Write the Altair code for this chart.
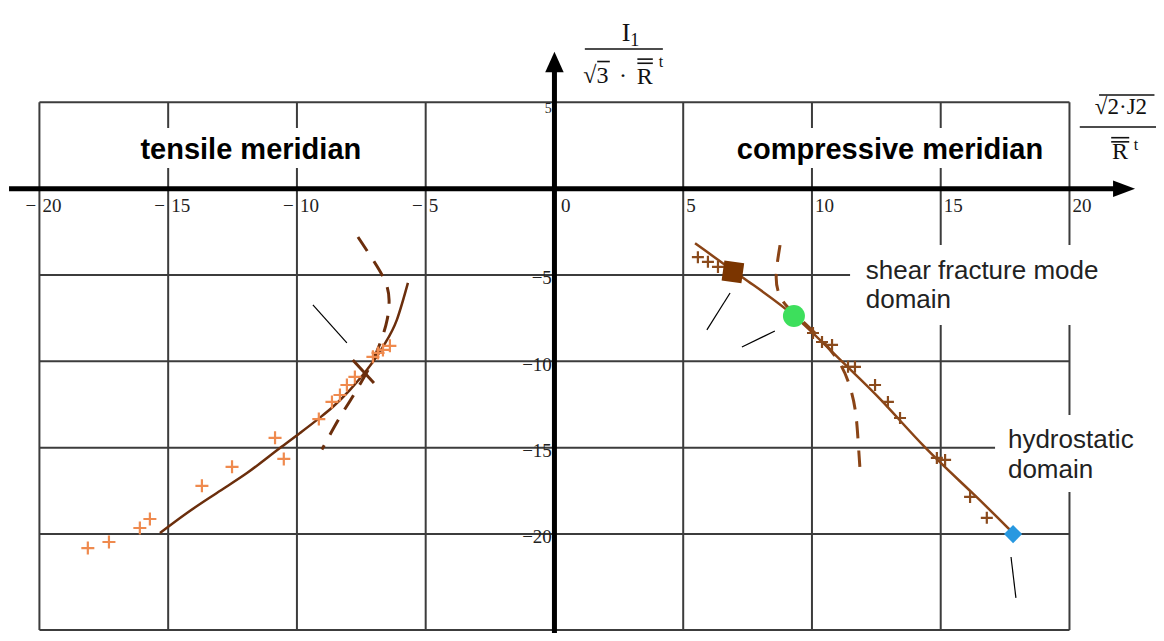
import altair as alt
import pandas as pd

# ---------------- data ----------------
grid_x = [-15, -10, -5, 5, 10, 15]
grid_y = [-5, -10, -15, -20]
frame_x = [-20, 20]
frame_y = [5, -25.55]

x_tick_vals = [-20, -15, -10, -5, 0, 5, 10, 15, 20]
x_tick_digits = ["20", "15", "10", "5", "0", "5", "10", "15", "20"]
y_tick_vals = [-5, -10, -15, -20]
y_tick_text = ["\u22125", "\u221210", "\u221215", "\u221220"]

# tensile meridian
tens_curve_x = [-15.32, -14.27, -13.11, -11.94, -10.66, -9.88, -9.22, -8.60, -7.94, -7.28, -6.66, -6.12, -5.69]
tens_curve_y = [-19.94, -18.78, -17.62, -16.47, -15.02, -14.15, -13.39, -12.63, -11.65, -10.49, -9.16, -7.60, -5.46]
tens_dash_x = [-7.63, -7.09, -6.50, -6.39, -6.47, -6.70, -7.05, -7.48, -7.94, -8.33, -9.03]
tens_dash_y = [-2.80, -4.01, -5.41, -6.44, -7.57, -8.73, -10.00, -11.16, -12.31, -13.19, -15.10]
tens_pts_x = [-18.12, -17.30, -16.10, -15.71, -13.69, -12.52, -10.85, -10.51, -9.15, -8.64, -8.33, -8.06, -7.75, -7.05, -6.85, -6.66, -6.39]
tens_pts_y = [-20.81, -20.46, -19.65, -19.13, -17.21, -16.11, -14.43, -15.65, -13.34, -12.35, -11.95, -11.37, -10.90, -9.74, -9.51, -9.34, -9.10]

# compressive meridian
comp_curve_x = [5.46, 7.59, 9.26, 11.09, 12.64, 14.31, 16.25, 17.81]
comp_curve_y = [-3.16, -5.46, -7.16, -9.94, -12.08, -14.96, -17.62, -19.94]
comp_dash_x = [8.76, 8.56, 8.68, 8.95, 9.26, 10.12, 11.09, 11.48, 11.71, 11.79, 11.86]
comp_dash_y = [-3.27, -5.13, -6.06, -6.73, -7.16, -8.32, -9.94, -11.37, -12.81, -14.55, -16.11]
comp_pts_x = [5.57, 5.96, 6.35, 10.04, 10.39, 10.78, 11.40, 11.67, 12.45, 12.95, 13.42, 14.85, 15.17, 16.14, 16.79]
comp_pts_y = [-3.97, -4.24, -4.53, -8.36, -8.88, -9.05, -10.32, -10.32, -11.37, -12.35, -13.28, -15.59, -15.71, -17.85, -19.06]

# special points
shear_pt = [6.93, -4.82]
green_pt = [9.30, -7.38]
hydro_pt = [17.81, -20.0]

# thin pointer strokes (x, y, x2, y2)
ptr_x = [-9.38, 6.82, 8.56, 17.73]
ptr_y = [-6.73, -6.04, -8.24, -21.33]
ptr_x2 = [-8.06, 5.92, 7.28, 17.92]
ptr_y2 = [-8.93, -8.18, -9.17, -23.70]
cross_seg = [-7.83, -9.92, -7.01, -11.25]

# ---------------- scales ----------------
XD = [-21.22, 23.36]
YD = [-25.73, 10.46]
W, H = 1148, 625
xs = alt.Scale(domain=XD, nice=False, zero=False)
ys = alt.Scale(domain=YD, nice=False, zero=False)


def ex(f="x"):
    return alt.X(f"{f}:Q", scale=xs, axis=None)


def ey(f="y"):
    return alt.Y(f"{f}:Q", scale=ys, axis=None)


GRID = "#3c3c3c"
layers = []

# grid + frame
vdf = pd.DataFrame({"x": grid_x + frame_x, "y": frame_y[1], "y2": frame_y[0]})
hdf = pd.DataFrame({"y": grid_y + frame_y, "x": frame_x[0], "x2": frame_x[1]})
layers.append(alt.Chart(vdf).mark_rule(color=GRID, strokeWidth=2).encode(x=ex(), y=ey(), y2="y2:Q"))
layers.append(alt.Chart(hdf).mark_rule(color=GRID, strokeWidth=2).encode(y=ey(), x=ex(), x2="x2:Q"))

# white boxes behind texts
box = pd.DataFrame({
    "x": [-16.56, 6.43, 11.48, 17.11],
    "x2": [-6.0, 19.44, 23.36, 23.36],
    "y": [3.51, 3.51, -3.26, -13.1],
    "y2": [1.20, 1.20, -7.89, -17.56],
})
layers.append(alt.Chart(box).mark_rect(color="white").encode(x=ex(), x2="x2:Q", y=ey(), y2="y2:Q"))

# axes
axx = pd.DataFrame({"x": [-21.18], "x2": [22.0], "y": [0.0]})
axy = pd.DataFrame({"x": [0.0], "y": [-25.73], "y2": [7.0]})
layers.append(alt.Chart(axx).mark_rule(color="black", strokeWidth=5).encode(x=ex(), x2="x2:Q", y=ey()))
layers.append(alt.Chart(axy).mark_rule(color="black", strokeWidth=5).encode(x=ex(), y=ey(), y2="y2:Q"))
arr_r = pd.DataFrame({"x": [22.12], "y": [0.0]})
arr_u = pd.DataFrame({"x": [0.0], "y": [7.33]})
layers.append(alt.Chart(arr_r).mark_point(shape="M1,0L-1,-0.75L-1,0.75Z", filled=True, color="black", size=484, opacity=1).encode(x=ex(), y=ey()))
layers.append(alt.Chart(arr_u).mark_point(shape="M0,-1L-0.9,1L0.9,1Z", filled=True, color="black", size=420, opacity=1).encode(x=ex(), y=ey()))

# tick labels
SERIF = "Liberation Serif"
minus_df = pd.DataFrame({"x": [v - 0.12 for v in x_tick_vals if v < 0], "y": -1.0, "t": "\u2212"})
dig_df = pd.DataFrame({"x": [v + 0.12 if v != 0 else v + 0.25 for v in x_tick_vals], "y": -1.0, "t": x_tick_digits})
layers.append(alt.Chart(minus_df).mark_text(font=SERIF, fontSize=19, align="right", baseline="middle", color="#222").encode(x=ex(), y=ey(), text="t:N"))
layers.append(alt.Chart(dig_df).mark_text(font=SERIF, fontSize=19, align="left", baseline="middle", color="#222").encode(x=ex(), y=ey(), text="t:N"))
ylab = pd.DataFrame({"x": -0.1, "y": [v - 0.2 for v in y_tick_vals], "t": y_tick_text})
layers.append(alt.Chart(ylab).mark_text(font=SERIF, fontSize=19, align="right", baseline="middle", color="#222").encode(x=ex(), y=ey(), text="t:N"))
y5 = pd.DataFrame({"x": [-0.1], "y": [4.62], "t": ["5"]})
layers.append(alt.Chart(y5).mark_text(font=SERIF, fontSize=14, align="right", baseline="middle", color="#222").encode(x=ex(), y=ey(), text="t:N"))

# curves
BROWN = "#6b2e0c"
BROWN2 = "#8a4416"


def line_df(xv, yv):
    return pd.DataFrame({"x": xv, "y": yv, "i": list(range(len(xv)))})


layers.append(alt.Chart(line_df(tens_curve_x, tens_curve_y)).mark_line(color=BROWN, strokeWidth=2.5, interpolate="monotone").encode(x=ex(), y=ey(), order="i:Q"))
layers.append(alt.Chart(line_df(tens_dash_x, tens_dash_y)).mark_line(color=BROWN, strokeWidth=3, strokeDash=[17, 12], interpolate="basis").encode(x=ex(), y=ey(), order="i:Q"))
layers.append(alt.Chart(line_df(comp_curve_x, comp_curve_y)).mark_line(color=BROWN2, strokeWidth=2.5, interpolate="basis").encode(x=ex(), y=ey(), order="i:Q"))
layers.append(alt.Chart(line_df(comp_dash_x, comp_dash_y)).mark_line(color=BROWN2, strokeWidth=3, strokeDash=[17, 12], interpolate="basis").encode(x=ex(), y=ey(), order="i:Q"))

# markers
PLUS = "M-1,0L1,0M0,-1L0,1"
layers.append(alt.Chart(line_df(tens_pts_x, tens_pts_y)).mark_point(shape=PLUS, filled=False, color="#ef8a4e", size=169, strokeWidth=2.2, opacity=1).encode(x=ex(), y=ey()))
layers.append(alt.Chart(line_df(comp_pts_x, comp_pts_y)).mark_point(shape=PLUS, filled=False, color="#8a4a1c", size=144, strokeWidth=2.2, opacity=1).encode(x=ex(), y=ey()))

ptr = pd.DataFrame({"x": ptr_x, "y": ptr_y, "x2": ptr_x2, "y2": ptr_y2})
layers.append(alt.Chart(ptr).mark_rule(color="black", strokeWidth=1.2).encode(x=ex(), y=ey(), x2="x2:Q", y2="y2:Q"))
cr = pd.DataFrame({"x": [cross_seg[0]], "y": [cross_seg[1]], "x2": [cross_seg[2]], "y2": [cross_seg[3]]})
layers.append(alt.Chart(cr).mark_rule(color=BROWN, strokeWidth=3).encode(x=ex(), y=ey(), x2="x2:Q", y2="y2:Q"))

sq = pd.DataFrame({"x": [shear_pt[0]], "y": [shear_pt[1]]})
layers.append(alt.Chart(sq).mark_point(shape="square", filled=True, color="#7b3500", size=400, opacity=1, angle=8).encode(x=ex(), y=ey()))
gp = pd.DataFrame({"x": [green_pt[0]], "y": [green_pt[1]]})
layers.append(alt.Chart(gp).mark_point(shape="circle", filled=True, color="#3ddf5c", size=484, opacity=1).encode(x=ex(), y=ey()))
hp = pd.DataFrame({"x": [hydro_pt[0]], "y": [hydro_pt[1]]})
layers.append(alt.Chart(hp).mark_point(shape="diamond", filled=True, color="#2898e0", size=330, opacity=1).encode(x=ex(), y=ey()))

# annotation texts
SANS = "Liberation Sans"
bold_df = pd.DataFrame({"x": [-11.79, 13.03], "y": [2.24, 2.24], "t": ["tensile meridian", "compressive meridian"]})
layers.append(alt.Chart(bold_df).mark_text(font=SANS, fontSize=29, fontWeight="bold", align="center", baseline="middle", color="black").encode(x=ex(), y=ey(), text="t:N"))
ann_df = pd.DataFrame({"x": [12.09, 12.09, 17.61, 17.61], "y": [-4.77, -6.45, -14.55, -16.3],
                       "t": ["shear fracture mode", "domain", "hydrostatic", "domain"]})
layers.append(alt.Chart(ann_df).mark_text(font=SANS, fontSize=26, align="left", baseline="middle", color="#222").encode(x=ex(), y=ey(), text="t:N"))

# axis titles (fractions)
math_df = pd.DataFrame({
    "x": [2.78, 3.12, 1.61, 2.66, 3.51, 4.14, 21.96, 22.58, 22.0],
    "y": [9.02, 8.55, 6.52, 6.52, 6.46, 7.34, 2.13, 2.53, 4.73],
    "t": ["I", "1", "\u221a3", "\u00b7", "R", "t", "R", "t", "\u221a2\u00b7J2"],
    "s": [26, 18, 24, 24, 24, 16, 24, 16, 23],
})
layers.append(alt.Chart(math_df).mark_text(font=SERIF, align="center", baseline="middle", color="#111").encode(
    x=ex(), y=ey(), text="t:N", size=alt.Size("s:Q", scale=None)))
bars = pd.DataFrame({
    "x": [1.18, 1.66, 3.22, 3.22, 20.4, 21.15, 21.62, 21.62],
    "x2": [4.21, 2.15, 3.82, 3.82, 23.36, 23.3, 22.32, 22.32],
    "y": [8.09, 7.36, 7.50, 7.26, 3.57, 5.42, 2.95, 2.71],
})
layers.append(alt.Chart(bars).mark_rule(color="#111", strokeWidth=1.6).encode(x=ex(), x2="x2:Q", y=ey()))

chart = alt.layer(*layers).properties(
    width=W, height=H, padding=0, autosize=alt.AutoSizeParams(type="none"), background="white"
).configure_view(stroke=None)

chart.save("out.html", embed_options={"renderer": "svg", "actions": False})
